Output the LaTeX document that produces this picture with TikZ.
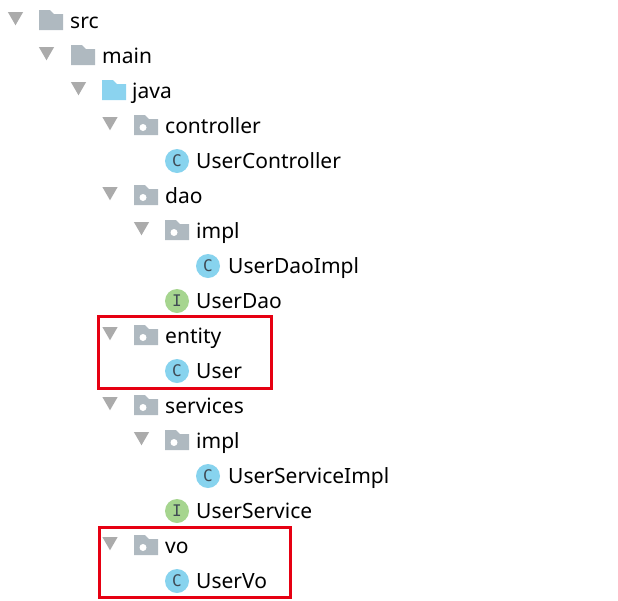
\documentclass[tikz,border=0pt]{standalone}
\usepackage{xcolor}
\usepackage{fontspec}
\setmainfont{Noto Sans}
\setmonofont{DejaVu Sans Mono}
\usetikzlibrary{shapes.geometric}
\definecolor{foldergray}{HTML}{AFB9C0}
\definecolor{folderblue}{HTML}{8BD3EF}
\definecolor{arrowgray}{HTML}{ABABAB}
\definecolor{classblue}{HTML}{87D3EE}
\definecolor{ifacegreen}{HTML}{A6D58F}
\definecolor{lettergray}{HTML}{3F4A54}
\definecolor{boxred}{HTML}{E60012}

\begin{document}
\begin{tikzpicture}[x=1pt,y=-1pt]
        % Define styles
        \tikzset{
            expander/.style={regular polygon, regular polygon sides=3, shape border rotate=180, fill=arrowgray, inner sep=0pt, minimum size=17.5pt},
            classicon/.style={circle, fill=classblue, text=lettergray, inner sep=0pt, minimum size=24pt, font=\ttfamily\fontsize{16}{16}\selectfont},
            ifaceicon/.style={classicon, fill=ifacegreen},
            label/.style={anchor=base west, inner sep=0pt, font=\fontsize{21}{21}\selectfont},
            redbox/.style={draw=boxred, line width=3pt},
            plainfolder/.pic={
                \fill[pic actions] (-12,-10) -- (-1,-10) -- (3,-6) -- (12,-6) -- (12,10) -- (-12,10) -- cycle;
            },
            packagefolder/.pic={
                \fill[foldergray] (-12,-10) -- (-1,-10) -- (3,-6) -- (12,-6) -- (12,10) -- (-12,10) -- cycle;
                \fill[white] (-3,2.5) circle (3.5);
            }
        }
        \useasboundingbox (0,0) rectangle (618,600);

        % Top folders
        \node[expander] (arrow_src) at (15.5,16.5) {};
        \pic[fill=foldergray] (folder_src) at (51,20) {plainfolder};
        \node[label] (label_src) at (70,28) {src};

        \node[expander] (arrow_main) at (46.5,51.5) {};
        \pic[fill=foldergray] (folder_main) at (83,55) {plainfolder};
        \node[label] (label_main) at (102,63) {main};

        \node[expander] (arrow_java) at (78.5,86.5) {};
        \pic[fill=folderblue] (folder_java) at (114,90) {plainfolder};
        \node[label] (label_java) at (132,98) {java};

        % controller
        \node[expander] (arrow_controller) at (110,121.5) {};
        \pic (folder_controller) at (146,125) {packagefolder};
        \node[label] (label_controller) at (165,133) {controller};
        \node[classicon] (icon_usercontroller) at (177,161) {C};
        \node[label] (label_usercontroller) at (196,168) {UserController};

        % dao
        \node[expander] (arrow_dao) at (110,191.5) {};
        \pic (folder_dao) at (146,195) {packagefolder};
        \node[label] (label_dao) at (165,203) {dao};
        \node[expander] (arrow_daoimpl) at (141.5,226.5) {};
        \pic (folder_daoimpl) at (177,230) {packagefolder};
        \node[label] (label_daoimpl) at (196,238) {impl};
        \node[classicon] (icon_userdaoimpl) at (208,266) {C};
        \node[label] (label_userdaoimpl) at (228,273) {UserDaoImpl};
        \node[ifaceicon] (icon_userdao) at (177,301) {I};
        \node[label] (label_userdao) at (196,308) {UserDao};

        % entity
        \node[expander] (arrow_entity) at (110,331.5) {};
        \pic (folder_entity) at (146,335) {packagefolder};
        \node[label] (label_entity) at (165,343) {entity};
        \node[classicon] (icon_user) at (177,371) {C};
        \node[label] (label_user) at (196,378) {User};

        % services
        \node[expander] (arrow_services) at (110,401.5) {};
        \pic (folder_services) at (146,405) {packagefolder};
        \node[label] (label_services) at (165,413) {services};
        \node[expander] (arrow_servicesimpl) at (141.5,436.5) {};
        \pic (folder_servicesimpl) at (177,440) {packagefolder};
        \node[label] (label_servicesimpl) at (196,448) {impl};
        \node[classicon] (icon_userserviceimpl) at (208,476) {C};
        \node[label] (label_userserviceimpl) at (228,483) {UserServiceImpl};
        \node[ifaceicon] (icon_userservice) at (177,511) {I};
        \node[label] (label_userservice) at (196,518) {UserService};

        % vo
        \node[expander] (arrow_vo) at (110,541.5) {};
        \pic (folder_vo) at (146,545) {packagefolder};
        \node[label] (label_vo) at (165,553) {vo};
        \node[classicon] (icon_uservo) at (177,581) {C};
        \node[label] (label_uservo) at (196,588) {UserVo};

        % Red boxes
        \draw[redbox] (98.5,316) rectangle (271.5,388);
        \draw[redbox] (99.5,527) rectangle (290.5,597);
    \end{tikzpicture}
\end{document}
